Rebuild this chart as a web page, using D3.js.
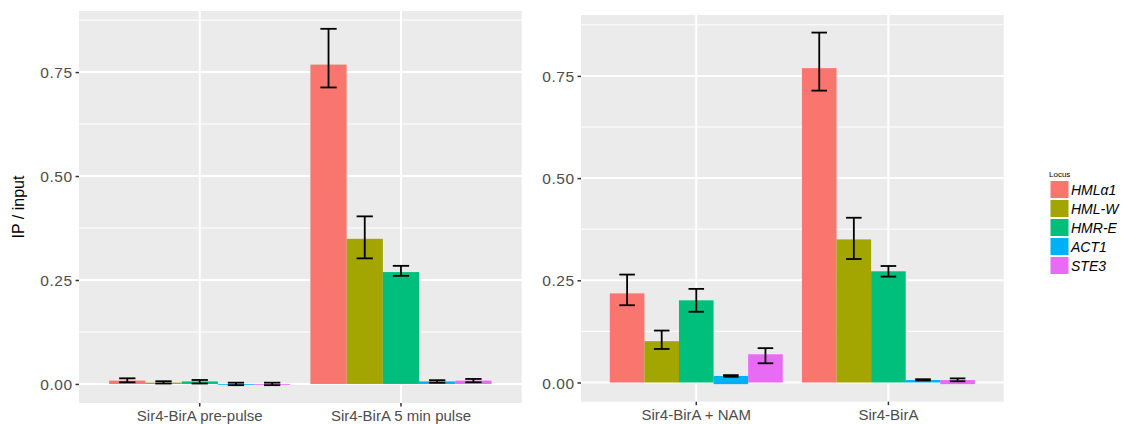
<!DOCTYPE html>
<html>
<head>
<meta charset="utf-8">
<script src="https://cdn.jsdelivr.net/npm/d3@7"></script>
<style>
  html, body { margin: 0; padding: 0; background: #fff; }
  svg { display: block; font-family: "Liberation Sans", Arial, Helvetica, sans-serif; }
</style>
</head>
<body>
<svg id="chart" width="1132" height="424"></svg>
<script>
// Loci (fill groups) and their colours
const loci = ["HMLα1", "HML-W", "HMR-E", "ACT1", "STE3"];
const lociColors = ["#F8766D", "#A3A500", "#00BF7D", "#00B0F6", "#E76BF3"];

// Left panel: biotinylation time course
const leftConditions = ["Sir4-BirA pre-pulse", "Sir4-BirA 5 min pulse"];
const leftMean = [[0.008, 0.003, 0.006, -0.001, -0.001], [0.768, 0.349, 0.269, 0.006, 0.008]];
const leftLow  = [[0.004, 0.001, 0.001, -0.003, -0.003], [0.713, 0.302, 0.260, 0.003, 0.004]];
const leftHigh = [[0.0135, 0.0065, 0.0095, 0.003, 0.003], [0.854, 0.403, 0.284, 0.009, 0.012]];
const leftFloor = [[0, 0, 0, -0.002, -0.002], [0, 0, 0, 0, 0]];

// Right panel: nicotinamide treatment
const rightConditions = ["Sir4-BirA + NAM", "Sir4-BirA"];
const rightMean = [[0.218, 0.101, 0.201, 0.016, 0.069], [0.769, 0.350, 0.272, 0.006, 0.006]];
const rightLow  = [[0.189, 0.082, 0.173, 0.014, 0.047], [0.714, 0.302, 0.259, 0.005, 0.003]];
const rightHigh = [[0.264, 0.127, 0.229, 0.018, 0.084], [0.856, 0.403, 0.285, 0.008, 0.010]];
const rightFloor = [[0, 0, 0, -0.004, 0], [0, 0, 0, 0, -0.004]];

const yTicks = [0, 0.25, 0.5, 0.75];
const yMinor = [0.125, 0.375, 0.625, 0.875];
const yTitle = "IP / input";
const legendTitle = "Locus";

const svg = d3.select("#chart");

function drawPanel(p) {
  const g = svg.append("g");
  const all = [0].concat(p.mean.flat(), p.low.flat(), p.high.flat(), p.floor.flat());
  const lo = d3.min(all), hi = d3.max(all), pad = (hi - lo) * 0.05;
  const y = d3.scaleLinear().domain([lo - pad, hi + pad]).range([p.y1, p.y0]);
  const x = d3.scaleBand().domain(p.conditions).range([p.x0, p.x1])
    .paddingInner(0.1).paddingOuter(0.15);
  const xi = d3.scaleBand().domain(loci).range([0, x.bandwidth()]);

  // panel background
  g.append("rect").attr("x", p.x0).attr("y", p.y0)
    .attr("width", p.x1 - p.x0).attr("height", p.y1 - p.y0).attr("fill", "#EBEBEB");

  // grid
  g.selectAll(".minor").data(yMinor).join("line")
    .attr("x1", p.x0).attr("x2", p.x1)
    .attr("y1", d => y(d)).attr("y2", d => y(d))
    .attr("stroke", "#fff").attr("stroke-width", 1);
  g.selectAll(".major").data(yTicks).join("line")
    .attr("x1", p.x0).attr("x2", p.x1)
    .attr("y1", d => y(d)).attr("y2", d => y(d))
    .attr("stroke", "#fff").attr("stroke-width", 2);
  g.selectAll(".vmajor").data(p.conditions).join("line")
    .attr("x1", d => x(d) + x.bandwidth() / 2).attr("x2", d => x(d) + x.bandwidth() / 2)
    .attr("y1", p.y0).attr("y2", p.y1)
    .attr("stroke", "#fff").attr("stroke-width", 2);

  // bars
  const rows = [];
  p.conditions.forEach((c, ci) => loci.forEach((l, li) => rows.push({
    c, l, li, v: p.mean[ci][li], lo: p.low[ci][li], hi: p.high[ci][li], f: p.floor[ci][li]
  })));
  g.selectAll(".bar").data(rows).join("rect")
    .attr("x", d => x(d.c) + xi(d.l))
    .attr("width", xi.bandwidth())
    .attr("y", d => y(Math.max(0, d.v)))
    .attr("height", d => Math.max(0.8, y(Math.min(0, d.v, d.f)) - y(Math.max(0, d.v))))
    .attr("fill", d => lociColors[d.li]);

  // error bars
  const cap = xi.bandwidth() * 0.45;
  const eb = g.selectAll(".err").data(rows).join("g")
    .attr("stroke", "#000").attr("stroke-width", 1.8).attr("fill", "none");
  eb.append("line")
    .attr("x1", d => x(d.c) + xi(d.l) + xi.bandwidth() / 2)
    .attr("x2", d => x(d.c) + xi(d.l) + xi.bandwidth() / 2)
    .attr("y1", d => y(d.lo)).attr("y2", d => y(d.hi));
  eb.append("line")
    .attr("x1", d => x(d.c) + xi(d.l) + xi.bandwidth() / 2 - cap / 2)
    .attr("x2", d => x(d.c) + xi(d.l) + xi.bandwidth() / 2 + cap / 2)
    .attr("y1", d => y(d.hi)).attr("y2", d => y(d.hi));
  eb.append("line")
    .attr("x1", d => x(d.c) + xi(d.l) + xi.bandwidth() / 2 - cap / 2)
    .attr("x2", d => x(d.c) + xi(d.l) + xi.bandwidth() / 2 + cap / 2)
    .attr("y1", d => y(d.lo)).attr("y2", d => y(d.lo));

  // y axis
  const ya = g.append("g").attr("transform", `translate(${p.x0},0)`)
    .call(d3.axisLeft(y).tickValues(yTicks).tickFormat(d3.format(".2f")).tickSize(3.5).tickPadding(3));
  ya.select(".domain").remove();
  ya.selectAll(".tick line").attr("stroke", "#333").attr("stroke-width", 1.5);
  ya.selectAll(".tick text").attr("fill", "#4D4D4D").attr("font-size", 15.5)
    .style("letter-spacing", "0.5px").attr("dy", "0.36em")
    .style("font-family", '"Liberation Sans", Arial, sans-serif');

  // x axis
  const xa = g.append("g").attr("transform", `translate(0,${p.y1})`)
    .call(d3.axisBottom(x).tickSize(3.5).tickPadding(4));
  xa.select(".domain").remove();
  xa.selectAll(".tick line").attr("stroke", "#333").attr("stroke-width", 1.5);
  xa.selectAll(".tick text").attr("fill", "#4D4D4D").attr("font-size", 15)
    .style("font-family", '"Liberation Sans", Arial, sans-serif');
}

drawPanel({ x0: 79, x1: 521.7, y0: 11, y1: 403, conditions: leftConditions,
  mean: leftMean, low: leftLow, high: leftHigh, floor: leftFloor });
drawPanel({ x0: 581, x1: 1003.7, y0: 15, y1: 401.7, conditions: rightConditions,
  mean: rightMean, low: rightLow, high: rightHigh, floor: rightFloor });

// y title
svg.append("text")
  .attr("transform", "translate(24,207) rotate(-90)")
  .attr("text-anchor", "middle")
  .attr("font-size", 16).attr("fill", "#000")
  .text(yTitle);

// legend
const lg = svg.append("g").attr("transform", "translate(1049,0)");
lg.append("text").attr("x", 0).attr("y", 177).attr("font-size", 8).attr("fill", "#000").text(legendTitle);
const items = lg.selectAll(".item").data(loci).join("g")
  .attr("transform", (d, i) => `translate(0,${181 + i * 19})`);
items.append("rect").attr("x", 1.5).attr("y", 0).attr("width", 18).attr("height", 17)
  .attr("fill", (d, i) => lociColors[i]);
items.append("text").attr("x", 22).attr("y", 13.5)
  .attr("font-size", 14).attr("font-style", "italic").attr("fill", "#000")
  .text(d => d);
</script>
</body>
</html>
